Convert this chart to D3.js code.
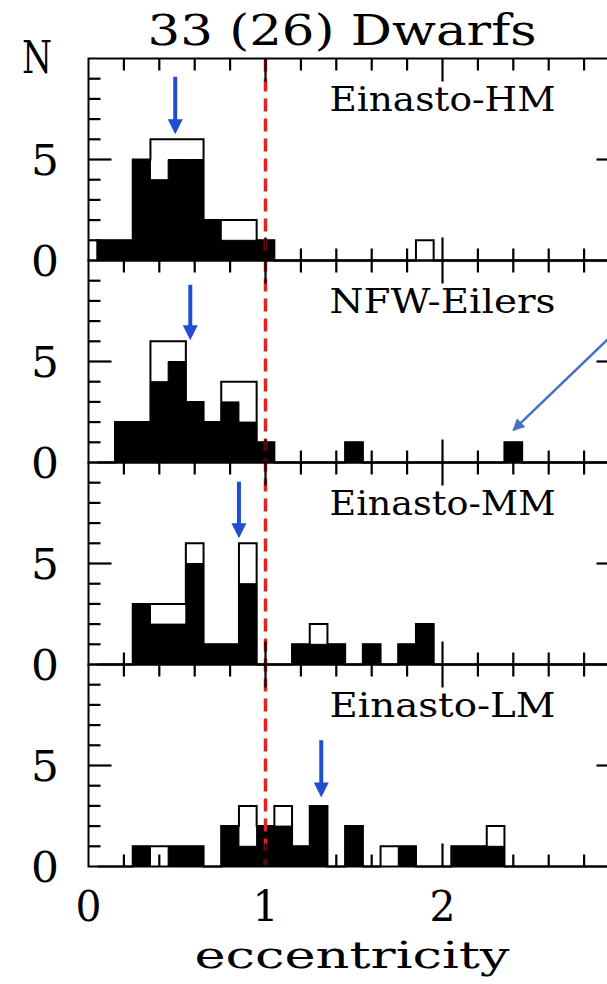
<!DOCTYPE html>
<html>
<head>
<meta charset="utf-8">
<script src="https://cdn.jsdelivr.net/npm/d3@7"></script>
<style>
  body { margin: 0; background: #fff; overflow: hidden; }
  svg text { font-family: "DejaVu Serif", serif; fill: #000; }
</style>
</head>
<body>
<div class="grafico"></div>
<script>
// valores (bins de 0.1 centrados en e)
const hmBins = [0.1, 0.2, 0.3, 0.4, 0.5, 0.6, 0.7, 0.8, 0.9, 1.0, 1.9];
const hmAll  = [1, 1, 5, 6, 6, 6, 2, 2, 2, 1, 1];
const hmSub  = [1, 1, 5, 4, 5, 5, 2, 1, 1, 1, 0];

const nfwBins = [0.2, 0.3, 0.4, 0.5, 0.6, 0.7, 0.8, 0.9, 1.0, 1.5, 2.4];
const nfwAll  = [2, 2, 6, 6, 3, 2, 4, 4, 1, 1, 1];
const nfwSub  = [2, 2, 4, 5, 3, 2, 3, 2, 1, 1, 1];

const mmBins = [0.3, 0.4, 0.5, 0.6, 0.7, 0.8, 0.9, 1.2, 1.3, 1.4, 1.6, 1.8, 1.9];
const mmAll  = [3, 3, 3, 6, 1, 1, 6, 1, 2, 1, 1, 1, 2];
const mmSub  = [3, 2, 2, 5, 1, 1, 4, 1, 1, 1, 1, 1, 2];

const lmBins = [0.3, 0.4, 0.5, 0.6, 0.8, 0.9, 1.0, 1.1, 1.2, 1.3, 1.5, 1.7, 1.8, 2.1, 2.2, 2.3];
const lmAll  = [1, 1, 1, 1, 2, 3, 2, 3, 1, 3, 2, 1, 1, 1, 1, 2];
const lmSub  = [1, 0, 1, 1, 2, 1, 2, 2, 1, 3, 2, 0, 1, 1, 1, 1];

const panelNames = ["Einasto-HM", "NFW-Eilers", "Einasto-MM", "Einasto-LM"];
// flechas azules (valor medio)
const meanEcc  = [0.49, 0.575, 0.85, 1.315];
const arrowTop = [9.1, 8.8, 9.05, 6.25];
const arrowTip = [6.25, 6.05, 6.25, 3.42];

const xTickLabels = [0, 1, 2];
const yTickLabels = [0, 5];
const titulo = "33 (26) Dwarfs";
const ejeX = "eccentricity";
const ejeY = "N";
const eCrit = 1;
// flecha de anotacion en NFW-Eilers
const notaDesde = { x: 3.1, y: 7.5 };
const notaHasta = { x: 2.4, y: 1.6 };

const paneles = [
  { bins: hmBins, all: hmAll, sub: hmSub },
  { bins: nfwBins, all: nfwAll, sub: nfwSub },
  { bins: mmBins, all: mmAll, sub: mmSub },
  { bins: lmBins, all: lmAll, sub: lmSub }
];

var width = 607, height = 984;
var top0 = 58.5, panelH = 202;

var svg = d3.select(".grafico")
  .append("svg")
  .attr("width", width)
  .attr("height", height);

var xScale = d3.scaleLinear().domain([0, 3]).range([88.5, 619.5]);

function yScaleDe(i) {
  return d3.scaleLinear().domain([0, 10]).range([top0 + (i + 1) * panelH, top0 + i * panelH]);
}

// pasa los bins a escalones (ceros donde no hay datos)
function escalones(bins, counts) {
  var pts = [{ x: 0.05, y: 0 }];
  for (var k = 1; k <= 29; k++) {
    var c = k / 10;
    var i = bins.findIndex(function(b) { return Math.abs(b - c) < 1e-6; });
    pts.push({ x: c - 0.05, y: i < 0 ? 0 : counts[i] });
  }
  pts.push({ x: 2.95, y: 0 });
  return pts;
}

var ticksX = [[0.2, 12], [0.4, 12], [0.6, 12], [0.8, 12], [1, 23], [1.2, 12], [1.4, 12], [1.6, 12],
  [1.8, 12], [2, 23], [2.2, 12], [2.4, 12], [2.6, 12], [2.8, 12]];
var ticksY = [[1, 12], [2, 12], [3, 12], [4, 12], [5, 23], [6, 12], [7, 12], [8, 12], [9, 12]];

var azul = "#1d4fd0";
var grosor = 2.2;

//* histogramas
paneles.forEach(function(p, i) {
  var yScale = yScaleDe(i);
  var g = svg.append("g");

  var linea = d3.line()
    .x(function(d) { return xScale(d.x); })
    .y(function(d) { return yScale(d.y); })
    .curve(d3.curveStepAfter);

  var area = d3.area()
    .x(function(d) { return xScale(d.x); })
    .y0(yScale(0))
    .y1(function(d) { return yScale(d.y); })
    .curve(d3.curveStepAfter);

  // total (abierto)
  g.append("path")
    .datum(escalones(p.bins, p.all))
    .attr("fill", "none")
    .attr("stroke", "#000")
    .attr("stroke-width", 2)
    .attr("d", linea);

  // subconjunto (relleno)
  g.append("path")
    .datum(escalones(p.bins, p.sub))
    .attr("fill", "#000")
    .attr("stroke", "#000")
    .attr("stroke-width", 1)
    .attr("d", area);

  // nombre del modelo
  g.append("text")
    .attr("x", xScale(2.0))
    .attr("y", yScale(7.38))
    .attr("text-anchor", "middle")
    .attr("font-size", 34)
    .attr("textLength", 226)
    .attr("lengthAdjust", "spacingAndGlyphs")
    .text(panelNames[i]);

  // etiquetas del eje y
  yTickLabels.forEach(function(v) {
    g.append("text")
      .attr("x", 45)
      .attr("y", yScale(v) + 15)
      .attr("text-anchor", "middle")
      .attr("font-size", 42)
      .attr("textLength", 28)
      .attr("lengthAdjust", "spacingAndGlyphs")
      .text(v);
  });

  // flecha azul del valor medio
  var xm = xScale(meanEcc[i]);
  var yt = yScale(arrowTip[i]);
  g.append("line")
    .attr("x1", xm).attr("x2", xm)
    .attr("y1", yScale(arrowTop[i]))
    .attr("y2", yt - 12)
    .attr("stroke", azul)
    .attr("stroke-width", 4);
  g.append("path")
    .attr("d", "M" + (xm - 7.5) + "," + (yt - 15) + "L" + (xm + 7.5) + "," + (yt - 15) + "L" + xm + "," + yt + "Z")
    .attr("fill", azul);
});

// linea roja e = 1
svg.append("line")
  .attr("x1", xScale(eCrit)).attr("x2", xScale(eCrit))
  .attr("y1", top0)
  .attr("y2", top0 + 4 * panelH)
  .attr("stroke", "#e02222")
  .attr("stroke-width", 3.5)
  .attr("stroke-dasharray", "13,7");

// flecha de anotacion
svg.append("defs").append("marker")
  .attr("id", "punta")
  .attr("viewBox", "0 0 10 10")
  .attr("refX", 9).attr("refY", 5)
  .attr("markerWidth", 16).attr("markerHeight", 12)
  .attr("markerUnits", "userSpaceOnUse")
  .attr("orient", "auto")
  .append("path")
  .attr("d", "M0,0L10,5L0,10Z")
  .attr("fill", "#4472c4");

var yNota = yScaleDe(1);
svg.append("line")
  .attr("x1", xScale(notaDesde.x)).attr("y1", yNota(notaDesde.y))
  .attr("x2", xScale(notaHasta.x)).attr("y2", yNota(notaHasta.y))
  .attr("stroke", "#4472c4")
  .attr("stroke-width", 2.5)
  .attr("marker-end", "url(#punta)");

// textos
svg.append("text")
  .attr("x", 37).attr("y", 73)
  .attr("text-anchor", "middle")
  .attr("font-size", 44)
  .attr("textLength", 30)
  .attr("lengthAdjust", "spacingAndGlyphs")
  .text(ejeY);

svg.append("text")
  .attr("x", 342).attr("y", 45)
  .attr("text-anchor", "middle")
  .attr("font-size", 42)
  .attr("textLength", 389)
  .attr("lengthAdjust", "spacingAndGlyphs")
  .text(titulo);

xTickLabels.forEach(function(v) {
  svg.append("text")
    .attr("x", xScale(v))
    .attr("y", 921)
    .attr("text-anchor", "middle")
    .attr("font-size", 42)
    .attr("textLength", 26)
    .attr("lengthAdjust", "spacingAndGlyphs")
    .text(v);
});

svg.append("text")
  .attr("x", 352).attr("y", 968)
  .attr("text-anchor", "middle")
  .attr("font-size", 38)
  .attr("textLength", 315)
  .attr("lengthAdjust", "spacingAndGlyphs")
  .text(ejeX);

//* marcos y ticks hacia adentro (rects rellenos, al final de todo)
var capaEjes = svg.append("g").attr("class", "ejes").attr("fill", "#000");
paneles.forEach(function(p, i) {
  var yScale = yScaleDe(i);
  var x0 = xScale(0), x3 = xScale(3);
  var yb = yScale(0), ytop = yScale(10);

  capaEjes.append("rect")
    .attr("x", x0).attr("y", ytop)
    .attr("width", x3 - x0).attr("height", yb - ytop)
    .attr("fill", "none")
    .attr("stroke", "#000")
    .attr("stroke-width", 2);

  ticksX.forEach(function(t) {
    var x = xScale(t[0]) - grosor / 2;
    capaEjes.append("rect")
      .attr("x", x).attr("y", yb - t[1])
      .attr("width", grosor).attr("height", t[1])
      .attr("fill", "#000");
    capaEjes.append("rect")
      .attr("x", x).attr("y", ytop)
      .attr("width", grosor).attr("height", t[1])
      .attr("fill", "#000");
  });

  ticksY.forEach(function(t) {
    var y = yScale(t[0]) - grosor / 2;
    capaEjes.append("rect")
      .attr("x", x0).attr("y", y)
      .attr("width", t[1]).attr("height", grosor)
      .attr("fill", "#000");
    capaEjes.append("rect")
      .attr("x", x3 - t[1]).attr("y", y)
      .attr("width", t[1]).attr("height", grosor)
      .attr("fill", "#000");
  });
});
</script>
</body>
</html>
